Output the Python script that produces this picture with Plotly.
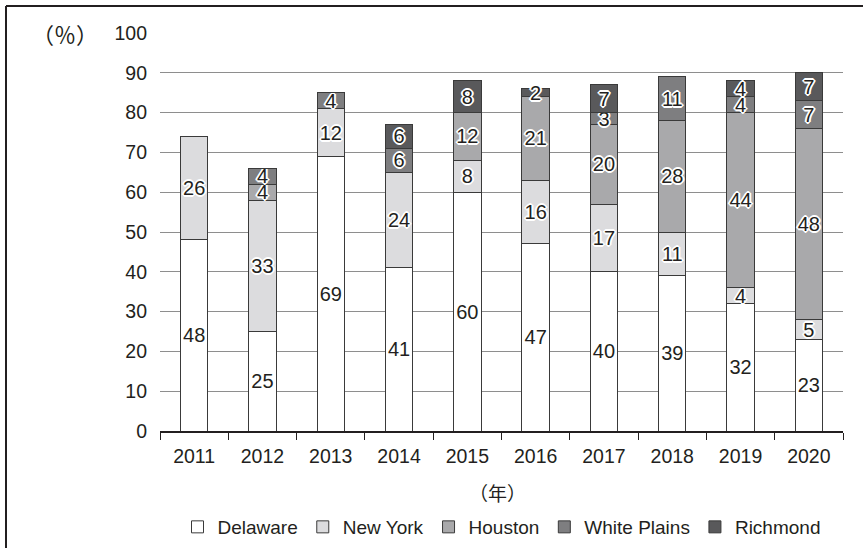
import plotly.graph_objects as go

years = ["2011", "2012", "2013", "2014", "2015", "2016", "2017", "2018", "2019", "2020"]
delaware = [48, 25, 69, 41, 60, 47, 40, 39, 32, 23]
new_york = [26, 33, 12, 24, 8, 16, 17, 11, 4, 5]
houston = [0, 4, 0, 0, 12, 21, 20, 28, 44, 48]
white_plains = [0, 4, 4, 6, 0, 0, 3, 11, 4, 7]
richmond = [0, 0, 0, 6, 8, 2, 7, 0, 4, 7]

series_names = ["Delaware", "New York", "Houston", "White Plains", "Richmond"]
series_values = [delaware, new_york, houston, white_plains, richmond]
colors = ["#ffffff", "#dcdcde", "#a9a9ab", "#7e7e80", "#59595b"]

FONT = "Liberation Sans, Arial, sans-serif"
CJK = "Noto Sans CJK JP, Noto Sans CJK SC, sans-serif"
TXT = "#231f20"
halo = ("-1px -1px 0 #fff, 1px -1px 0 #fff, -1px 1px 0 #fff, 1px 1px 0 #fff, "
        "0 -2px 0 #fff, 0 2px 0 #fff, -2px 0 0 #fff, 2px 0 0 #fff")

fig = go.Figure()
for i, (name, vals, col) in enumerate(zip(series_names, series_values, colors)):
    fig.add_trace(go.Bar(
        x=years, y=vals, name=name,
        marker=dict(color=col, line=dict(color="#3a3a3a", width=1)),
        text=[str(v) if v else "" for v in vals],
        textposition="inside", insidetextanchor="middle", textangle=0,
        constraintext="none",
        textfont=dict(family=FONT, size=20, color=TXT,
                      shadow="none" if i == 0 else halo),
        hoverinfo="skip",
    ))

L, R, T, B = 160, 20, 33, 117
W, H = 863, 548
pw, ph = W - L - R, H - T - B

def px(x):
    return (x - L) / pw

def py(y):
    return (T + ph - y) / ph

fig.update_layout(
    width=W, height=H,
    margin=dict(l=L, r=R, t=T, b=B, autoexpand=False),
    barmode="stack", bargap=0.6,
    paper_bgcolor="white", plot_bgcolor="white",
    font=dict(family=FONT, size=20, color=TXT),
    showlegend=True,
    legend=dict(orientation="h", x=0.5, xanchor="center", xref="paper",
                y=1 - 527 / H, yanchor="middle", yref="container",
                font=dict(size=19, color=TXT), traceorder="normal",
                itemwidth=30, tracegroupgap=0),
    xaxis=dict(type="category", showgrid=False, showline=True, linecolor="#231f20", linewidth=2,
               ticks="outside", tickson="boundaries", ticklen=7, tickcolor="#231f20", tickwidth=1,
               ticklabelstandoff=7,
               tickfont=dict(size=19.5, color=TXT), zeroline=False, automargin=False),
    yaxis=dict(range=[0, 100], dtick=10, tick0=0, showgrid=True, gridcolor="#8e8e8e", gridwidth=1,
               showline=False, zeroline=False, ticks="", ticklabelstandoff=12,
               tickfont=dict(size=19.5, color=TXT), automargin=False),
    annotations=[
        dict(text="（％）", xref="paper", yref="paper", x=px(65), y=py(33), showarrow=False,
             xanchor="center", yanchor="middle",
             font=dict(family=CJK, size=22, color=TXT)),
        dict(text="（年）", xref="paper", yref="paper", x=px(497), y=py(492), showarrow=False,
             xanchor="center", yanchor="middle",
             font=dict(family=CJK, size=19, color=TXT)),
    ],
    shapes=[
        dict(type="line", xref="paper", yref="paper", x0=px(6), x1=px(875), y0=py(6), y1=py(6),
             line=dict(color="#231f20", width=2)),
        dict(type="line", xref="paper", yref="paper", x0=px(6), x1=px(6), y0=py(6), y1=py(560),
             line=dict(color="#231f20", width=2)),
    ],
)

fig.write_html("out.html")
